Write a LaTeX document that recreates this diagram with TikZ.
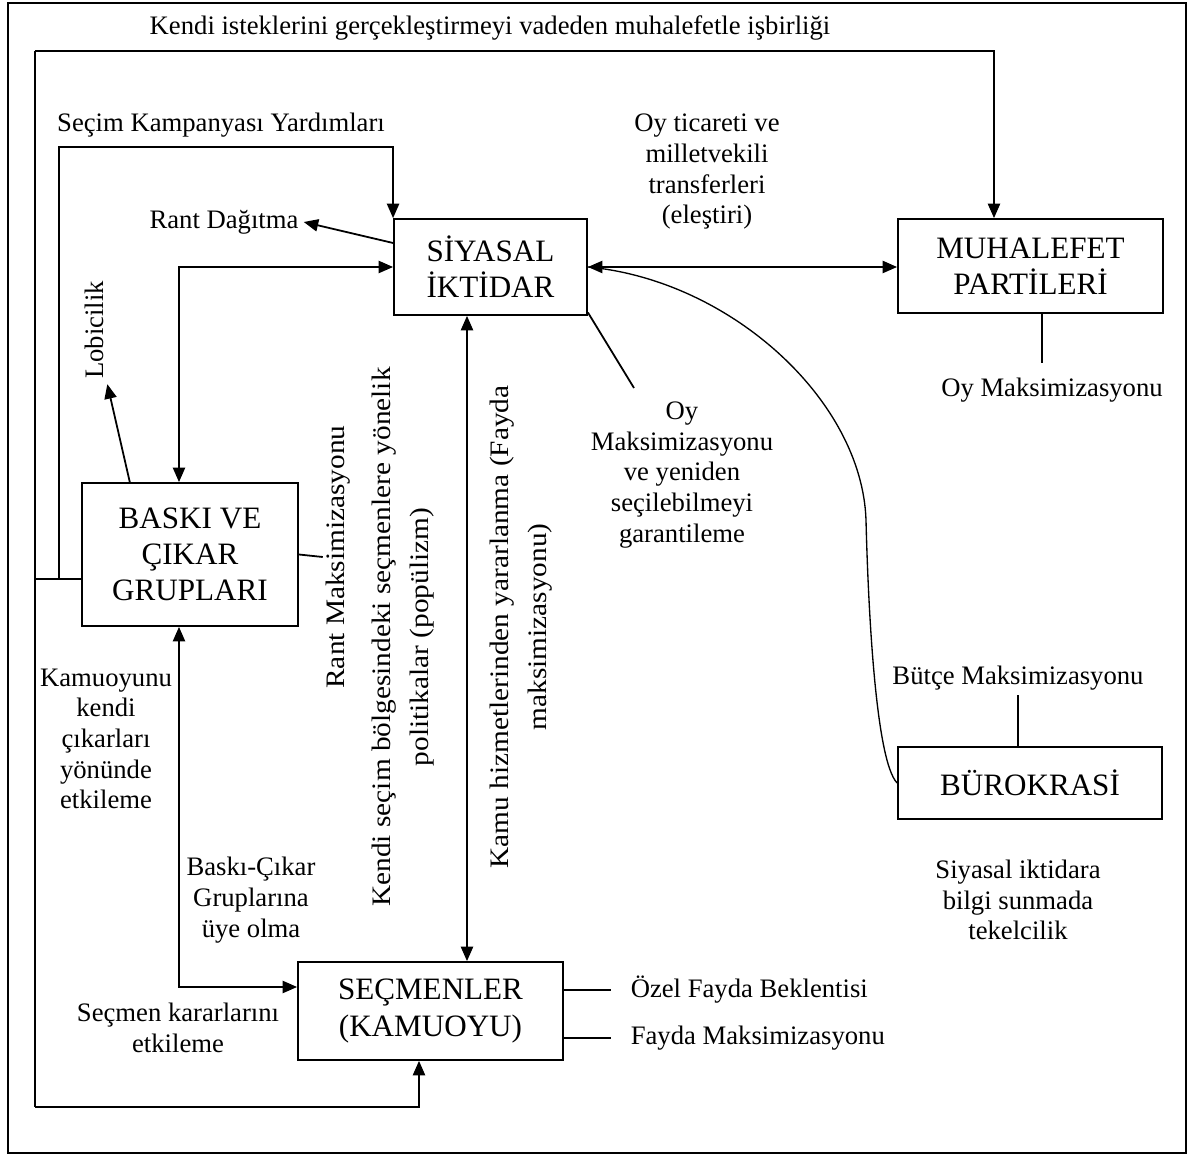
\documentclass[tikz,border=0pt]{standalone}
\usepackage{fontspec}
\setmainfont{Liberation Serif}
\usetikzlibrary{arrows.meta}

\begin{document}
\begin{tikzpicture}[
       x=0.45pt, y=-0.45pt,
       line width=0.8pt,
       kutu/.style={
         draw,
         align=center,
         inner sep=0pt,
         font=\fontsize{14}{16.3}\selectfont
       },
       etiket/.style={
         align=center,
         inner sep=2pt,
         font=\fontsize{12}{13.8}\selectfont
       },
       dik/.style={
         etiket,
         rotate=90,
         font=\fontsize{12}{17}\selectfont
       },
       uzun/.style={
         dik,
         xscale=1.1
       },
       oku/.style={-{Triangle[length=6.5pt,width=5.5pt]}},
       oku2/.style={{Triangle[length=6.5pt,width=5.5pt]}-{Triangle[length=6.5pt,width=5.5pt]}}
     ]

       \useasboundingbox (0,0) rectangle (1201,1156);
       \draw[line width=0.7pt] (8,3) rectangle (1186,1153);

       % kutular
       \node (siyasal) at (490.5,267) [kutu, minimum width=86.9pt, minimum height=43.2pt]{SİYASAL\\İKTİDAR};
       \node (muhalefet) at (1030.5,266) [kutu, minimum width=119.3pt, minimum height=42.3pt]{MUHALEFET\\PARTİLERİ};
       \node (baski) at (190,554.5) [kutu, minimum width=97.2pt, minimum height=64.4pt]{BASKI VE\\ÇIKAR\\GRUPLARI};
       \node (secmen) at (430.5,1011) [kutu, minimum width=119.3pt, minimum height=44.1pt]{SEÇMENLER\\(KAMUOYU)};
       \node (buro) at (1030,783) [kutu, minimum width=118.8pt, minimum height=32.4pt]{BÜROKRASİ};

       % etiketler
       \node (isbirligi) at (490,28) [etiket]{Kendi isteklerini gerçekleştirmeyi vadeden muhalefetle işbirliği};
       \node (kampanya) at (221,125) [etiket]{Seçim Kampanyası Yardımları};
       \node (rant) at (224,222) [etiket]{Rant Dağıtma};
       \node (ticaret) at (707,172) [etiket]{Oy ticareti ve\\milletvekili\\transferleri\\(eleştiri)};
       \node (lobi) at (94,330) [dik]{Lobicilik};
       \node (rmax) at (338,557) [uzun, inner sep=1pt]{Rant Maksimizasyonu};
       \node (populizm) at (403,637) [uzun]{Kendi seçim bölgesindeki seçmenlere yönelik\\politikalar (popülizm)};
       \node (kamu) at (521,627) [uzun]{Kamu hizmetlerinden yararlanma (Fayda\\maksimizasyonu)};
       \node (oymax) at (682,475) [etiket]{Oy\\Maksimizasyonu\\ve yeniden\\seçilebilmeyi\\garantileme};
       \node (oymuh) at (1052,390) [etiket]{Oy Maksimizasyonu};
       \node (butce) at (1018,678) [etiket]{Bütçe Maksimizasyonu};
       \node (kamuoyu) at (106,739) [etiket]{Kamuoyunu\\kendi\\çıkarları\\yönünde\\etkileme};
       \node (uyelik) at (251,900) [etiket]{Baskı-Çıkar\\Gruplarına\\üye olma};
       \node (karar) at (178,1028) [etiket]{Seçmen kararlarını\\etkileme};
       \node (bilgi) at (1018,900) [etiket]{Siyasal iktidara\\bilgi sunmada\\tekelcilik};
       \node (ozel) at (611,990) [etiket, anchor=west, inner xsep=8.5pt]{Özel Fayda Beklentisi};
       \node (fayda) at (611,1038) [etiket, anchor=west, inner xsep=8.5pt]{Fayda Maksimizasyonu};

       \coordinate (solust) at (35,51);
       \coordinate (solalt) at (35,1107);
       \coordinate (solorta) at (35,579);
       \coordinate (mh) at (994,51);
       \coordinate (sc) at (419,1107);
       \coordinate (km1) at (59,579);
       \coordinate (km2) at (59,147);
       \coordinate (lb) at (179,267);
       \coordinate (lb0) at (130,483);
       \coordinate (bc) at (179,987);
       \coordinate (kh) at (467,0);
       \coordinate (oyuc) at (634,388);
       \coordinate (oyk) at (1042,363);

       \draw[oku] (solust) -- (mh) -- (mh |- muhalefet.north);
       \draw (solust) -- (solalt);
       \draw[oku] (solalt) -- (sc) -- (sc |- secmen.south);
       \draw (solorta) -- (solorta -| baski.west);

       \draw[oku] (km1) -- (km2) -| (siyasal.north west);
       \draw[oku] ([yshift=10.8pt]siyasal.west) -- (rant.east);
       \draw[oku2] (lb |- baski.north) -- (lb) -- (lb -| siyasal.west);
       \draw[oku] (lb0) -- ([xshift=6pt]lobi.west);
       \draw (baski.east) -- (rmax.north);

       \draw[oku2] (siyasal.south -| kh) -- (secmen.north -| kh);
       \draw[oku2] (bc |- baski.south) -- (bc) -- (bc -| secmen.west);
       \draw (ozel.west -| secmen.east) -- (ozel.west);
       \draw (fayda.west -| secmen.east) -- (fayda.west);

       \draw[oku2] (siyasal.east) -- (siyasal.east -| muhalefet.west);
       \draw ([yshift=1.5pt]siyasal.south east) -- (oyuc);
       \draw (oyk |- muhalefet.south) -- (oyk);
       \draw (butce.south) -- (butce.south |- buro.north);

       \draw[line width=0.6pt] (buro.west) .. controls (875,760) and (868,600) .. (866,520)
             .. controls (862,400) and (730,280) .. (siyasal.east);

\end{tikzpicture}
\end{document}
